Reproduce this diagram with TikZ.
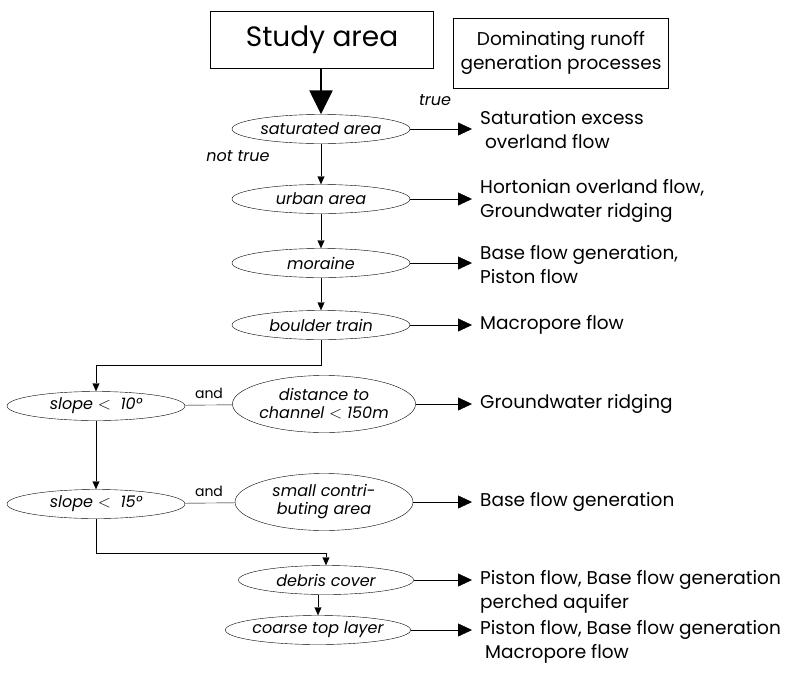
\documentclass[tikz,border=0pt]{standalone}
\usepackage{fontspec}
\setmainfont{Poppins}
\usetikzlibrary{shapes.geometric,arrows.meta}
\tikzstyle{cond} = [draw=black, ellipse, inner sep=0pt,
    minimum width=178pt, minimum height=29pt, font=\itshape\fontsize{16}{18}\selectfont]
\tikzstyle{bigcond} = [cond, minimum height=57pt, align=center]
\tikzstyle{process} = [anchor=west, align=left, inner sep=0pt, font=\fontsize{18.5}{24}\selectfont]
\tikzstyle{flow} = [-{Triangle[length=14pt,width=13pt]}, shorten >=8pt]
\tikzstyle{down} = [-{Triangle[length=8pt,width=7pt]}]

\begin{document}
\begin{tikzpicture}[x=1pt,y=-1pt]
                \useasboundingbox (0,0) rectangle (798,678);
                % heads
                \node [draw=black, minimum width=223pt, minimum height=57pt,
                    font=\fontsize{28}{30}\selectfont] (study) at (322,40) {Study area};
                \node [draw=black, minimum width=215pt, minimum height=70pt, align=center,
                    font=\fontsize{18.5}{24}\selectfont] (dom) at (561,53) {Dominating runoff\\generation processes};
                % conditions
                \node [cond] (sat) at (321,129) {saturated area};
                \node [cond] (urban) at (321,199) {urban area};
                \node [cond] (moraine) at (321,263) {moraine};
                \node [cond] (boulder) at (321,325) {boulder train};
                \node [cond] (slopeA) at (96,406) {slope $<$\ \ 10°};
                \node [bigcond] (dist) at (324,404) {distance to\\channel $<$ 150m};
                \node [cond] (slopeB) at (96,504) {slope $<$\ \ 15°};
                \node [bigcond] (contrib) at (324,502) {small contri-\\buting area};
                \node [cond, minimum width=175pt] (debris) at (326,580) {debris cover};
                \node [cond, minimum width=170pt] (coarse) at (318,630) {coarse top layer};
                % processes
                \node [process] (satTxt) at (480,130) {Saturation excess\\\ overland flow};
                \node [process] (urbanTxt) at (480,201) {Hortonian overland flow,\\Groundwater ridging};
                \node [process] (moraineTxt) at (480,265) {Base flow generation,\\Piston flow};
                \node [process] (boulderTxt) at (480,325) {Macropore flow};
                \node [process] (distTxt) at (480,404) {Groundwater ridging};
                \node [process] (contribTxt) at (480,502) {Base flow generation};
                \node [process] (debrisTxt) at (480,592) {Piston flow, Base flow generation\\perched aquifer};
                \node [process] (coarseTxt) at (480,642) {Piston flow, Base flow generation\\\ Macropore flow};
                % labels
                \node [font=\itshape\fontsize{16}{18}\selectfont] (trueLbl) at (435,100) {true};
                \node [font=\itshape\fontsize{16}{18}\selectfont] (notLbl) at (238,156) {not true};
                \node [font=\fontsize{14}{16}\selectfont] (andA) at (209,393) {and};
                \node [font=\fontsize{14}{16}\selectfont] (andB) at (209,491) {and};
                % connectors
                \draw [line width=2.5pt, -{Triangle[length=24pt,width=23pt]}] (study.south -| sat.north) -- (sat.north);
                \draw [down] (sat) -- (urban);
                \draw [down] (urban) -- (moraine);
                \draw [down] (moraine) -- (boulder);
                \draw [down] (boulder.south) -- ++(0,25) -| (slopeA.north);
                \draw [down] (slopeA) -- (slopeB);
                \draw [down] (slopeB.south) -- ++(0,34) -| (debris.north);
                \draw [down] (debris.south -| coarse.north) -- (coarse.north);
                \draw (slopeA) -- (dist);
                \draw (slopeB) -- (contrib);
                \draw [flow] (sat.east) -- (sat.east -| satTxt.west);
                \draw [flow] (urban.east) -- (urban.east -| urbanTxt.west);
                \draw [flow] (moraine.east) -- (moraine.east -| moraineTxt.west);
                \draw [flow] (boulder.east) -- (boulder.east -| boulderTxt.west);
                \draw [flow] (dist.east) -- (dist.east -| distTxt.west);
                \draw [flow] (contrib.east) -- (contrib.east -| contribTxt.west);
                \draw [flow] (debris.east) -- (debris.east -| debrisTxt.west);
                \draw [flow] (coarse.east) -- (coarse.east -| coarseTxt.west);
            \end{tikzpicture}
\end{document}
